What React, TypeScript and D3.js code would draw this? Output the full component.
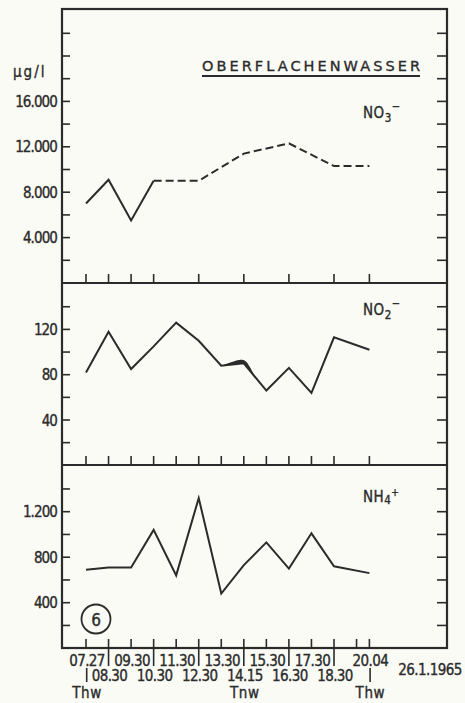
import React from "react";
import * as d3 from "d3";

// ---- data ----
const times = ["07.27", "08.30", "09.30", "10.30", "11.30", "12.30", "13.30", "14.15", "15.30", "16.30", "17.30", "18.30", "20.04"];
// nominal slot position (hours) on the chart's time axis
const slotHours = [7.5, 8.5, 9.5, 10.5, 11.5, 12.5, 13.5, 14.5, 15.5, 16.5, 17.5, 18.5, 20.07];
const extraAxisHours = [19.5];

const no3Times = ["07.27", "08.30", "09.30", "10.30", "12.30", "14.15", "16.30", "18.30", "20.04"];
const no3Values = [7000, 9100, 5500, 9000, 9000, 11400, 12300, 10300, 10300];
const no3SolidUntil = "10.30"; // solid line up to this time, dashed afterwards

const no2Values = [82, 118, 85, 105, 126, 110, 88, 90, 66, 86, 64, 113, 102];
const nh4Values = [690, 710, 710, 1040, 640, 1320, 480, 730, 930, 700, 1010, 720, 660];

const no3Ticks = [2000, 4000, 6000, 8000, 10000, 12000, 14000, 16000, 18000, 20000, 22000];
const no3Labels = [4000, 8000, 12000, 16000];
const no2Ticks = [20, 40, 60, 80, 100, 120, 140];
const no2Labels = [40, 80, 120];
const nh4Ticks = [200, 400, 600, 800, 1000, 1200, 1400];
const nh4Labels = [400, 800, 1200];

const tideLabels = [
  { time: "07.27", label: "Thw" },
  { time: "14.15", label: "Tnw" },
  { time: "20.04", label: "Thw" },
];

const ink = "#2b2b2b";
const FONT = "'DejaVu Sans Condensed', 'Liberation Sans Narrow', 'DejaVu Sans', sans-serif";
const WIDE = "'DejaVu Sans', 'Liberation Sans', sans-serif";
const TS = { stroke: ink, strokeWidth: 0.35 };

const de = d3.formatLocale({ decimal: ",", thousands: ".", grouping: [3], currency: ["", ""] });
const fmt = de.format(",d");

export default function App() {
  const W = 465, H = 703;
  const L = 62, R = 447;
  const top = 9, d1 = 283, d2 = 465, bottom = 648;

  const x = d3.scaleLinear().domain([7.5, 18.5]).range([86, 334]);
  const hourOf = (t: string) => slotHours[times.indexOf(t)];

  const y1 = d3.scaleLinear().domain([0, 24000]).range([283, 10.6]);
  const y2 = d3.scaleLinear().domain([0, 160]).range([465.3, 284.1]);
  const y3 = d3.scaleLinear().domain([0, 1600]).range([648.2, 466.2]);

  const line = d3.line<[number, number]>().x((d) => d[0]).y((d) => d[1]);

  const no3Pts: [number, number][] = no3Times.map((t, i) => [x(hourOf(t)), y1(no3Values[i])]);
  const splitIdx = no3Times.indexOf(no3SolidUntil);
  const no2Pts: [number, number][] = times.map((t, i) => [x(slotHours[i]), y2(no2Values[i])]);
  const nh4Pts: [number, number][] = times.map((t, i) => [x(slotHours[i]), y3(nh4Values[i])]);

  // ink blot on the NO2 line after 13.30 (thickened wedge in the original drawing)
  const p6 = no2Pts[6], p7 = no2Pts[7], p8 = no2Pts[8];
  const mid78: [number, number] = [(p7[0] + p8[0]) / 2, (p7[1] + p8[1]) / 2];
  const blotTop = d3.line<[number, number]>().curve(d3.curveCatmullRom)([
    p6,
    [p7[0] - 4, p7[1] - 3.5],
    [p7[0] + 2, p7[1] - 2],
    mid78,
  ]);
  const blot = (blotTop || "") + `L${p7[0]},${p7[1]}L${p6[0]},${p6[1]}Z`;

  const yTicks = (scale: d3.ScaleLinear<number, number>, ticks: number[], labels: number[], key: string) => (
    <g key={key}>
      {ticks.map((v) => (
        <g key={v}>
          <line x1={L} x2={L + 8} y1={scale(v)} y2={scale(v)} stroke={ink} strokeWidth={1.6} />
          <line x1={R - 10} x2={R} y1={scale(v)} y2={scale(v)} stroke={ink} strokeWidth={1.6} />
        </g>
      ))}
      {labels.map((v) => (
        <text key={"l" + v} x={57} y={scale(v) + 5.5} textAnchor="end" fontSize={15} fill={ink} letterSpacing={-0.9} {...TS}>
          {fmt(v)}
        </text>
      ))}
    </g>
  );

  const xTicks = (hours: number[], yBase: number, key: string) => (
    <g key={key}>
      {hours.map((h, i) => (
        <line key={i} x1={x(h)} x2={x(h)} y1={yBase - 9} y2={yBase} stroke={ink} strokeWidth={1.6} />
      ))}
    </g>
  );

  return (
    <svg width={W} height={H} style={{ position: "absolute", left: 0, top: 0 }} fontFamily={FONT}>
      <rect x={0} y={0} width={W} height={H} fill="#fbfbf6" />

      {/* frame */}
      <rect x={L} y={top} width={R - L} height={bottom - top} fill="none" stroke={ink} strokeWidth={2.2} />
      <line x1={L} x2={R} y1={d1} y2={d1} stroke={ink} strokeWidth={2.2} />
      <line x1={L} x2={R} y1={d2} y2={d2} stroke={ink} strokeWidth={2.2} />

      {/* y ticks */}
      {yTicks(y1, no3Ticks, no3Labels, "t1")}
      {yTicks(y2, no2Ticks, no2Labels, "t2")}
      {yTicks(y3, nh4Ticks, nh4Labels, "t3")}

      {/* x ticks per panel */}
      {xTicks(no3Times.map(hourOf), d1, "x1")}
      {xTicks(slotHours, d2, "x2")}
      {xTicks([...slotHours, ...extraAxisHours], bottom, "x3")}

      {/* long ticks under odd labels */}
      {times.map((t, i) =>
        i % 2 === 1 ? (
          <line key={"lt" + i} x1={x(slotHours[i])} x2={x(slotHours[i])} y1={bottom} y2={666} stroke={ink} strokeWidth={1.6} />
        ) : null
      )}
      {/* tide bars */}
      {[0, times.length - 1].map((i) => (
        <line key={"tb" + i} x1={x(slotHours[i]) + 0.7} x2={x(slotHours[i]) + 0.7} y1={668} y2={682} stroke={ink} strokeWidth={1.6} />
      ))}

      {/* x labels */}
      {times.map((t, i) => (
        <text key={"xl" + i} x={x(slotHours[i]) + 1} y={i % 2 === 0 ? 666 : 681} textAnchor="middle" fontSize={15} fill={ink} letterSpacing={-0.6} {...TS}>
          {t}
        </text>
      ))}
      {tideLabels.map((d) => (
        <text key={"td" + d.time} x={x(hourOf(d.time)) + 1} y={698} textAnchor="middle" fontSize={15} fill={ink} letterSpacing={0.6} {...TS}>
          {d.label}
        </text>
      ))}
      <text x={430} y={675} textAnchor="middle" fontSize={15} fill={ink} letterSpacing={-0.6} {...TS}>26.1.1965</text>

      {/* unit and title */}
      <text x={13} y={77} fontSize={15} fill={ink} letterSpacing={2} {...TS}>µg/l</text>
      <text x={202} y={70.5} fontSize={14.5} fontFamily={WIDE} fill={ink} textLength={218} lengthAdjust="spacing" {...TS}>OBERFLACHENWASSER</text>
      <line x1={202} x2={420} y1={76} y2={76} stroke={ink} strokeWidth={2.2} />

      {/* series labels */}
      <text x={363} y={118} fontSize={15} fill={ink} letterSpacing={0.5} {...TS}>
        NO<tspan dy={4} fontSize={11.5}>3</tspan><tspan dy={-12} fontSize={11}>−</tspan>
      </text>
      <text x={363} y={315} fontSize={15} fill={ink} letterSpacing={0.5} {...TS}>
        NO<tspan dy={4} fontSize={11.5}>2</tspan><tspan dy={-12} fontSize={11}>−</tspan>
      </text>
      <text x={363} y={502} fontSize={15} fill={ink} letterSpacing={0.5} {...TS}>
        NH<tspan dy={2} fontSize={11.5}>4</tspan><tspan dy={-8} fontSize={10}>+</tspan>
      </text>

      {/* NO3 */}
      <path d={line(no3Pts.slice(0, splitIdx + 1)) || ""} fill="none" stroke={ink} strokeWidth={2} strokeLinejoin="miter" />
      <path d={line(no3Pts.slice(splitIdx)) || ""} fill="none" stroke={ink} strokeWidth={2} strokeDasharray="8,4" />

      {/* NO2 */}
      <path d={line(no2Pts) || ""} fill="none" stroke={ink} strokeWidth={2} strokeLinejoin="miter" />
      <path d={blot} fill={ink} stroke="none" />

      {/* NH4 */}
      <path d={line(nh4Pts) || ""} fill="none" stroke={ink} strokeWidth={2} strokeLinejoin="miter" />

      {/* circled number */}
      <circle cx={96} cy={619} r={14.5} fill="none" stroke={ink} strokeWidth={1.8} />
      <text x={96} y={625.5} textAnchor="middle" fontSize={17} fill={ink} {...TS}>6</text>
    </svg>
  );
}
